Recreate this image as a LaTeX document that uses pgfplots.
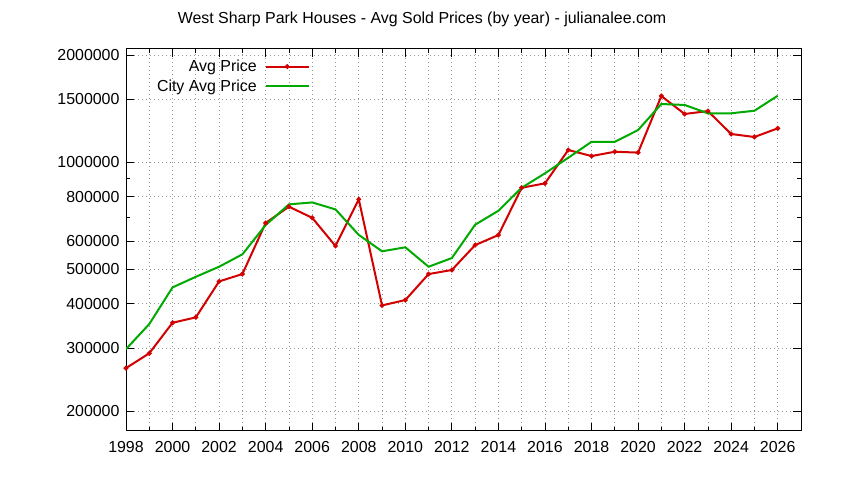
\documentclass[border=0pt]{standalone}
\usepackage{pgfplots}
\pgfplotsset{compat=1.18}
\usepackage{fontspec}
\setmainfont{Liberation Sans}
\definecolor{avgred}{RGB}{210,0,0}
\definecolor{citygreen}{RGB}{0,170,0}
\definecolor{gridgray}{RGB}{150,150,150}

\begin{document}
\fontsize{16}{18}\selectfont
\begin{tikzpicture}
\useasboundingbox (0,0) rectangle (844bp,480bp);
\node[anchor=base] at (422bp,456bp) {West Sharp Park Houses - Avg Sold Prices (by year) - julianalee.com};
\begin{axis}[
    at={(126bp,49bp)}, anchor=south west,
    width=675bp, height=382bp, scale only axis,
    ymode=log,
    xmin=1998, xmax=2027,
    ymin=175800, ymax=2080000,
    xtick={1998,2000,...,2026},
    minor xtick={1999,2001,...,2025},
    ytick={200000,300000,400000,500000,600000,800000,1000000,1500000,2000000},
    minor ytick={700000,900000},
    yticklabels={200000,300000,400000,500000,600000,800000,1000000,1500000,2000000},
    xticklabel style={/pgf/number format/1000 sep={}},
    /pgf/number format/assume math mode=true,
    tick align=inside,
    major tick length=8bp, minor tick length=4bp,
    tick style={black, line width=0.8bp},
    axis line style={black, line width=1bp},
    xmajorgrids, xminorgrids, ymajorgrids,
    grid style={gridgray, line width=0.8bp, dash pattern=on 1bp off 3bp},
    yticklabel style={xshift=-1bp},
    xticklabel style={yshift=-5bp},
    legend style={draw=none, fill=none, at={(0.2726,0.978)}, anchor=north east,
      row sep=2bp, inner sep=0pt, font=\fontsize{16}{18}\selectfont},
    legend cell align=right,
    legend plot pos=right,
    legend image code/.code={
      \draw[#1, mark=none] (0bp,0bp) -- (43bp,0bp);
      \draw[#1, only marks] plot coordinates {(21.5bp,0bp)};
    },
]
\addplot[avgred, line width=2bp, mark=*, mark size=1.3bp] coordinates {
(1998,264000) (1999,290500) (2000,354000) (2001,366600) (2002,462500)
(2003,485000) (2004,675000) (2005,750000) (2006,698000) (2007,581600)
(2008,787000) (2009,396000) (2010,410000) (2011,485000) (2012,498000)
(2013,585000) (2014,624400) (2015,847700) (2016,872000) (2017,1082000)
(2018,1040600) (2019,1070000) (2020,1064000) (2021,1534000) (2022,1366000)
(2023,1392000) (2024,1200000) (2025,1177000) (2026,1245000)
};
\addlegendentry{Avg Price\kern6bp}
\addplot[citygreen, line width=2bp, mark=none] coordinates {
(1998,298500) (1999,351000) (2000,445000) (2001,476500) (2002,508600)
(2003,551000) (2004,666000) (2005,761300) (2006,771000) (2007,737000)
(2008,625000) (2009,562000) (2010,576700) (2011,508600) (2012,538000)
(2013,667400) (2014,730500) (2015,847700) (2016,930600) (2017,1029000)
(2018,1141000) (2019,1141000) (2020,1231000) (2021,1457000) (2022,1448000)
(2023,1372000) (2024,1372000) (2025,1395000) (2026,1537000)
};
\addlegendentry{City Avg Price\kern6bp}
\end{axis}
\end{tikzpicture}
\end{document}
